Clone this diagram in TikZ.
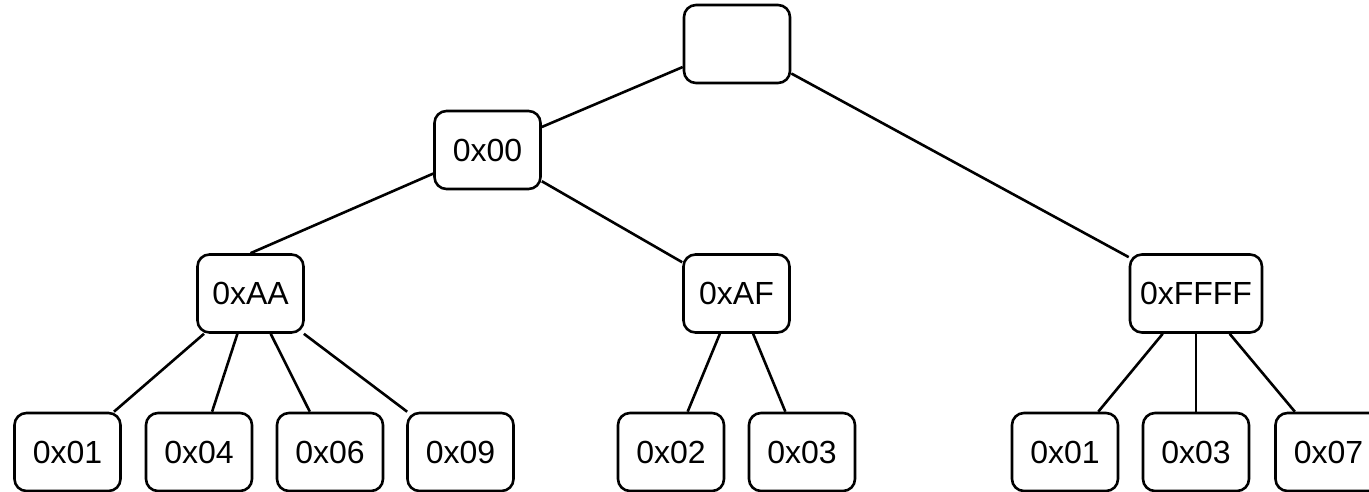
\documentclass[tikz,border=0pt]{standalone}
\usepackage{fontspec}
\setmainfont{Liberation Sans}
\begin{document}
\begin{tikzpicture}[x=1pt,y=-1pt,
  keybox/.style={draw=black, line width=2.6pt, rounded corners=12pt, fill=white,
    minimum width=106pt, minimum height=78pt, inner sep=0pt,
    font=\fontsize{32}{38}\selectfont},
  wide/.style={minimum width=132pt},
  edge/.style={draw=black, line width=2.6pt}]
\useasboundingbox (0,0) rectangle (1369,492);
\clip (0,0) rectangle (1369,492);

% root and inner levels
\node[keybox] (root) at (737,44) {};
\node[keybox] (n00) at (487.5,150) {0x00};
\node[keybox] (nAA) at (250.5,293.5) {0xAA};
\node[keybox] (nAF) at (736.5,293.5) {0xAF};
\node[keybox,wide] (nFFFF) at (1196,293.5) {0xFFFF};

% leaves
\node[keybox] (a01) at (67.5,452) {0x01};
\node[keybox] (a04) at (199,452) {0x04};
\node[keybox] (a06) at (330,452) {0x06};
\node[keybox] (a09) at (460.5,452) {0x09};
\node[keybox] (f02) at (671,452) {0x02};
\node[keybox] (f03) at (802,452) {0x03};
\node[keybox] (z01) at (1065,452) {0x01};
\node[keybox] (z03) at (1196,452) {0x03};
\node[keybox] (z07) at (1328.5,452) {0x07};

% edges
\draw[edge] (root) -- (n00);
\draw[edge] (root) -- (nFFFF);
\draw[edge] (n00) -- (nAA.north);
\draw[edge] (n00) -- (nAF);
\draw[edge] (nAA) -- (a01);
\draw[edge] (nAA) -- (a04);
\draw[edge] (nAA) -- (a06);
\draw[edge] (nAA) -- (a09);
\draw[edge] (nAF) -- (f02);
\draw[edge] (nAF) -- (f03);
\draw[edge] (nFFFF) -- (z01);
\draw[edge] (nFFFF) -- (z03);
\draw[edge] (nFFFF) -- (z07);
\end{tikzpicture}
\end{document}
